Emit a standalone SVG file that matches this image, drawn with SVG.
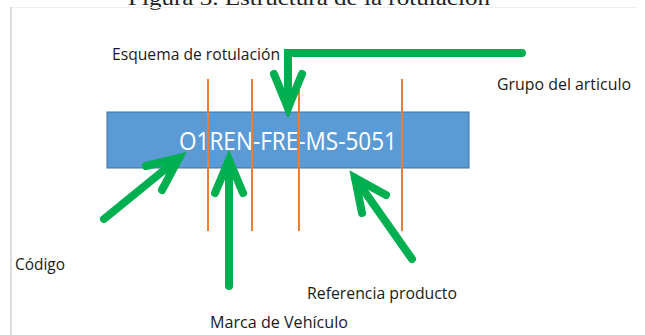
<svg xmlns="http://www.w3.org/2000/svg" width="645" height="335" viewBox="0 0 645 335">
<style>
.lbl{font-family:"Open Sans","Liberation Sans",sans-serif;font-size:17px;fill:#1a1a1a}
.arr{fill:none;stroke:#00b050;stroke-width:8;stroke-linecap:round;stroke-linejoin:miter}
.div{stroke:#ed7d31;stroke-width:2}
</style>
<rect width="645" height="335" fill="#ffffff"/>
<text x="128" y="5" font-family="Liberation Serif, serif" font-size="22" fill="#222" textLength="362" lengthAdjust="spacingAndGlyphs">Figura 3. Estructura de la rotulación</text>
<line x1="11" y1="7.5" x2="636" y2="7.5" stroke="#eeeeee" stroke-width="1"/>
<line x1="11" y1="7" x2="11" y2="335" stroke="#bbbbbb" stroke-width="1"/>
<g id="code-box">
<rect x="107" y="112" width="362" height="56" fill="#5b9bd5" stroke="#41719c" stroke-width="1"/>
<text x="179" y="150" font-family="Open Sans, Liberation Sans, sans-serif" font-size="26" fill="#ffffff" textLength="218" lengthAdjust="spacingAndGlyphs">O1REN-FRE-MS-5051</text>
</g>
<g id="dividers">
<line class="div" x1="208" y1="79" x2="208" y2="231"/>
<line class="div" x1="252" y1="79" x2="252" y2="231"/>
<line class="div" x1="299" y1="79" x2="299" y2="231"/>
<line class="div" x1="402" y1="79" x2="402" y2="231"/>
</g>
<g id="label-esquema"><text class="lbl" x="112" y="60" textLength="168" lengthAdjust="spacingAndGlyphs">Esquema de rotulación</text></g>
<g id="label-grupo"><text class="lbl" x="497" y="90" textLength="134" lengthAdjust="spacingAndGlyphs">Grupo del articulo</text></g>
<g id="label-codigo"><text class="lbl" x="15" y="270" textLength="50" lengthAdjust="spacingAndGlyphs">Código</text></g>
<g id="label-referencia"><text class="lbl" x="307" y="299" textLength="150" lengthAdjust="spacingAndGlyphs">Referencia producto</text></g>
<g id="label-marca"><text class="lbl" x="210" y="328" textLength="138" lengthAdjust="spacingAndGlyphs">Marca de Vehículo</text></g>
<g id="connectors">
<path class="arr" d="M522 53 H288 V108" stroke-linecap="butt"/>
<path class="arr" d="M274 74 L288 108 L302 74"/>
<path class="arr" d="M104 219 L179 158"/>
<path class="arr" d="M146 166 L179 158 L162 190"/>
<path class="arr" d="M229 286 V160"/>
<path class="arr" d="M215 193 L229 160 L243 193"/>
<path class="arr" d="M412 259 L355 178"/>
<path class="arr" d="M362 213 L355 178 L386 195"/>
</g>
</svg>
